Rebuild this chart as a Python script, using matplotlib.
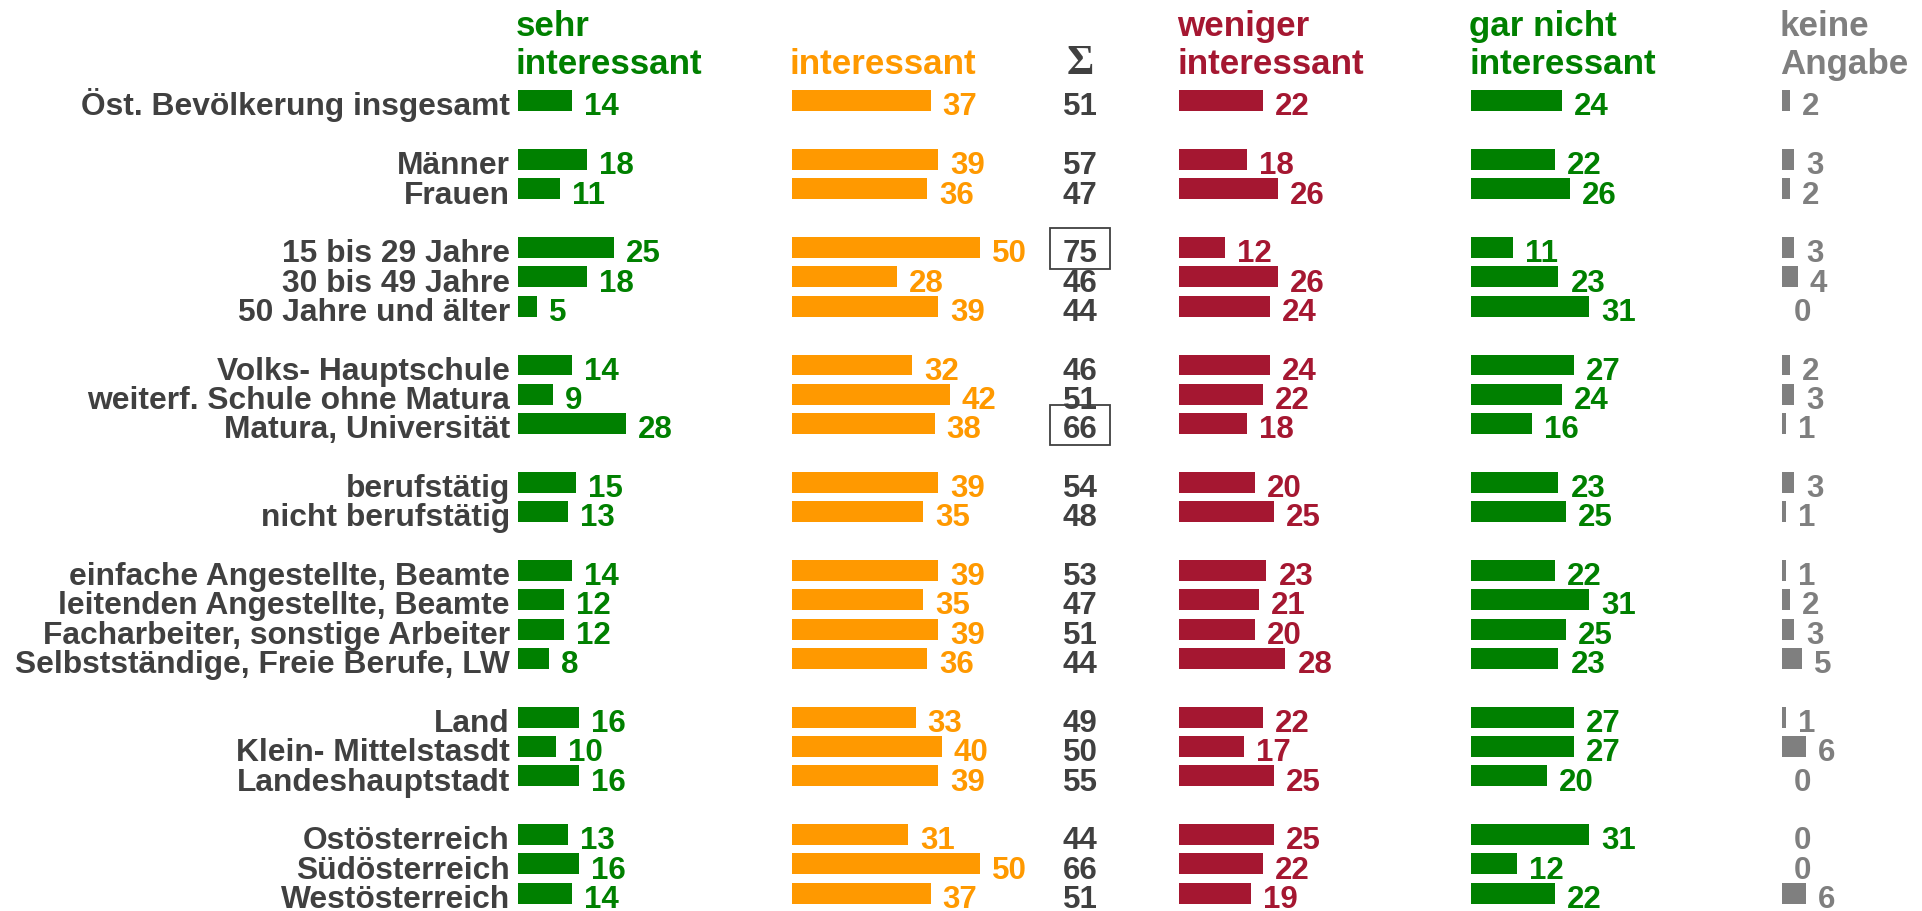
import numpy as np
import matplotlib
matplotlib.use("Agg")
import matplotlib.pyplot as plt
from matplotlib.patches import Rectangle
from matplotlib.transforms import offset_copy

plt.rcParams['font.family'] = ['Liberation Sans', 'DejaVu Sans']
plt.rcParams['font.weight'] = 'bold'

# data
labels = ["Öst. Bevölkerung insgesamt",
          "Männer", "Frauen",
          "15 bis 29 Jahre", "30 bis 49 Jahre", "50 Jahre und älter",
          "Volks- Hauptschule", "weiterf. Schule ohne Matura", "Matura, Universität",
          "berufstätig", "nicht berufstätig",
          "einfache Angestellte, Beamte", "leitenden Angestellte, Beamte",
          "Facharbeiter, sonstige Arbeiter", "Selbstständige, Freie Berufe, LW",
          "Land", "Klein- Mittelstasdt", "Landeshauptstadt",
          "Ostösterreich", "Südösterreich", "Westösterreich"]
group_sizes = [1, 2, 3, 3, 2, 4, 3, 3]

sehr = [14, 18, 11, 25, 18, 5, 14, 9, 28, 15, 13, 14, 12, 12, 8, 16, 10, 16, 13, 16, 14]
interessant = [37, 39, 36, 50, 28, 39, 32, 42, 38, 39, 35, 39, 35, 39, 36, 33, 40, 39, 31, 50, 37]
weniger = [22, 18, 26, 12, 26, 24, 24, 22, 18, 20, 25, 23, 21, 20, 28, 22, 17, 25, 25, 22, 19]
gar_nicht = [24, 22, 26, 11, 23, 31, 27, 24, 16, 23, 25, 22, 31, 25, 23, 27, 27, 20, 31, 12, 22]
keine = [2, 3, 2, 3, 4, 0, 2, 3, 1, 3, 1, 1, 2, 3, 5, 1, 6, 0, 0, 0, 6]
summe = [51, 57, 47, 75, 46, 44, 46, 51, 66, 54, 48, 53, 47, 51, 44, 49, 50, 55, 44, 66, 51]
boxed = ["15 bis 29 Jahre", "Matura, Universität"]

headers = ["sehr\ninteressant", "interessant", "weniger\ninteressant",
           "gar nicht\ninteressant", "keine\nAngabe"]

# layout (pixels)
W, H = 1922, 911
starts = [518, 792, 1179, 1471, 1782]
px_per_unit = [3.84, 3.75, 3.8, 3.8, 4.0]
colors = ['#008000', '#FF9900', '#A51731', '#008000', '#7F7F7F']
dark = '#404040'
row0, step = 100.8, 29.35

rows = []
r = 0
for g in group_sizes:
    rows.extend(range(r, r + g))
    r += g + 1
rows = np.array(rows)
nrows = r - 1

top_px = row0 - step / 2
ax_h = nrows * step
off = 0.5  # baseline below bar centre, in rows

fig = plt.figure(figsize=(W / 100, H / 100), dpi=100)

fs = 22.5
series = [sehr, interessant, weniger, gar_nicht, keine]
axes = []
for i, vals in enumerate(series):
    aw = 220
    ax = fig.add_axes([starts[i] / W, 1 - (top_px + ax_h) / H, aw / W, ax_h / H])
    ax.set_xlim(0, aw / px_per_unit[i])
    ax.set_ylim(nrows - 0.5, -0.5)
    ax.axis('off')
    ax.barh(rows, vals, height=0.71, color=colors[i], edgecolor='none')
    tr = offset_copy(ax.transData, fig=fig, x=12, y=0, units='dots')
    for y, v in zip(rows, vals):
        ax.text(v, y + off, str(v), color=colors[i], fontsize=fs,
                ha='left', va='baseline', transform=tr, clip_on=False)
    fig.text((starts[i] - 2) / W, 1 - 74 / H, headers[i], color=colors[i],
             fontsize=25.2, ha='left', va='baseline', linespacing=1.18)
    axes.append(ax)

# row labels
ax0 = axes[0]
tr_lab = offset_copy(ax0.transData, fig=fig, x=-8, y=0, units='dots')
for y, lab in zip(rows, labels):
    ax0.text(0, y + off, lab, color=dark, fontsize=22.9, ha='right',
             va='baseline', transform=tr_lab, clip_on=False)

# sum column
sx, sw = 1080, 60
axs = fig.add_axes([(sx - sw / 2) / W, 1 - (top_px + ax_h) / H, sw / W, ax_h / H])
axs.set_xlim(0, 1)
axs.set_ylim(nrows - 0.5, -0.5)
axs.axis('off')
for y, v, lab in zip(rows, summe, labels):
    axs.text(0.5, y + off, str(v), color=dark, fontsize=fs, ha='center',
             va='baseline', clip_on=False)
    if lab in boxed:
        axs.add_patch(Rectangle((0, y - 0.65), 1, 1.38, fill=False,
                                edgecolor=dark, linewidth=1.3, clip_on=False))
fig.text(sx / W, 1 - 74 / H, "Σ", color=dark, fontsize=30, ha='center',
         va='baseline', family=['Liberation Serif', 'DejaVu Serif'])

fig.savefig('out.png', dpi=100)
